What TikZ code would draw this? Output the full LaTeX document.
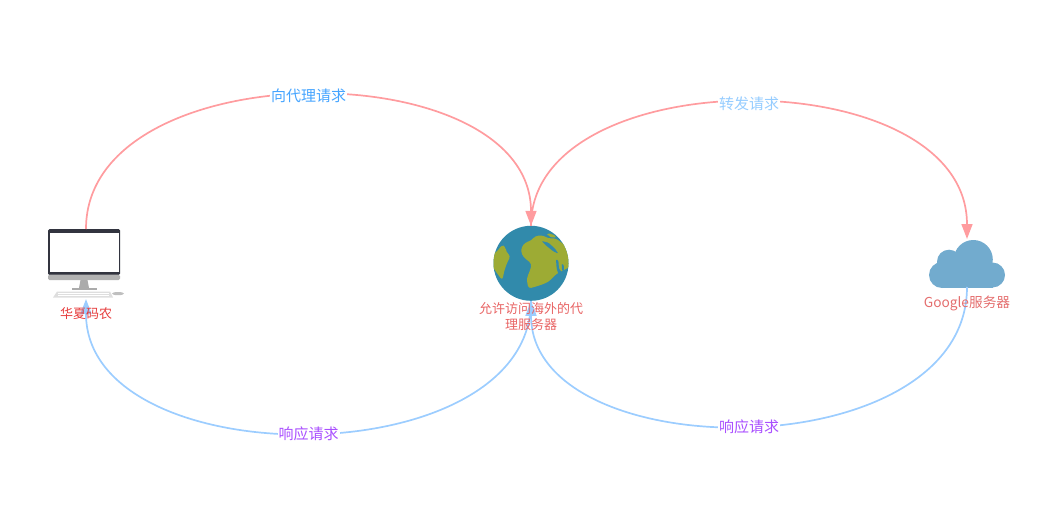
\documentclass[tikz,border=0pt]{standalone}
\usepackage{fontspec}
\setmainfont{Noto Sans CJK SC}
\usetikzlibrary{arrows.meta}
\definecolor{reqline}{HTML}{FF9C9F}
\definecolor{respline}{HTML}{9CCDFF}
\definecolor{oceanblue}{HTML}{318AAB}
\definecolor{landgreen}{HTML}{9DAB34}
\definecolor{cloudblue}{HTML}{72ABCE}
\definecolor{framedark}{HTML}{32343F}
\tikzset{
  x=1pt, y=-1pt,
  iconbox/.style={inner sep=0pt, outer sep=0pt, minimum width=#1},
  reqflow/.style={draw=reqline, line width=1.7pt, -{Triangle[length=15pt,width=11pt]}},
  respflow/.style={draw=respline, line width=1.7pt, -{Triangle[length=15pt,width=11pt]}},
  flowtag/.style={fill=white, inner sep=1pt, font=\fontsize{15}{17}\selectfont},
  captiontag/.style={flowtag, fill=none, yshift=-1pt},
  hosttag/.style={inner sep=0pt, align=center, font=\fontsize{13}{16}\selectfont},
}
\begin{document}
\begin{tikzpicture}
\useasboundingbox (0,0) rectangle (1037,511);

% hosts, as empty boxes that the connectors attach to
\node[iconbox=72pt, minimum height=70pt] (pc) at (86,264) {};
\node[iconbox=75pt, minimum height=75pt, circle] (globe) at (531,263.3) {};
\node[iconbox=76pt, minimum height=48pt] (cloud) at (967,263) {};

% desktop computer
\fill[framedark, rounded corners=1.5pt] (48,229) rectangle (120,275);
\fill[white] (50,233) rectangle (118.5,271.5);
\fill[black!30, rounded corners=1.5pt] (48,274.5) -- (120,274.5) -- (120,280) -- (48,280) -- cycle;
\fill[black!33] (80.5,280) -- (87.5,280) -- (89,288) -- (79,288) -- cycle;
\fill[black!33] (72,288) rectangle (96.5,290);
\fill[black!13] (57,291.5) -- (110,291.5) -- (113,297.5) -- (53,297.5) -- cycle;
\foreach \r in {293.2,294.8}
  \draw[white, line width=.4pt] (58,\r) -- (109,\r);
\fill[black!25] (118,293.6) ellipse [x radius=6, y radius=1.6];

% earth
\fill[oceanblue] (globe.center) circle [radius=37.5];
\begin{scope}
  \clip (globe.center) circle [radius=37.5];
  \begin{scope}[shift={(490,222)}, x=.3333pt, y=-.3333pt]
    \fill[landgreen, rounded corners=3pt]
      (95,75) -- (105,62) -- (125,55) -- (135,42) -- (160,40) -- (175,50) -- (195,48)
      -- (240,80) -- (240,135) -- (200,155) -- (175,180) -- (150,190) -- (115,200)
      -- (110,170) -- (122,140) -- (125,125) -- (100,105) -- (93,90) -- cycle;
    \fill[landgreen, rounded corners=2pt]
      (170,35) -- (185,35) -- (200,45) -- (190,48) -- (175,42) -- cycle;
    \fill[landgreen, rounded corners=3pt]
      (5,100) -- (25,85) -- (35,68) -- (47,75) -- (48,90) -- (62,102) -- (50,125)
      -- (42,150) -- (37,175) -- (22,155) -- (5,130) -- cycle;
    \fill[oceanblue, rounded corners=1pt]
      (155,57) -- (175,62) -- (195,80) -- (205,95) -- (190,88) -- (170,72) -- cycle;
    \fill[oceanblue, rounded corners=1pt]
      (198,112) -- (205,115) -- (207,140) -- (215,150) -- (205,155) -- (200,140) -- cycle;
    \fill[oceanblue, rounded corners=1pt]
      (215,125) -- (222,130) -- (222,150) -- (216,145) -- cycle;
  \end{scope}
\end{scope}

% cloud
\fill[cloudblue] (973.3,259.5) circle [radius=19.5];
\fill[cloudblue] (949,261.7) circle [radius=12];
\fill[cloudblue] (942,275) circle [radius=13];
\fill[cloudblue] (992.5,275) circle [radius=12.5];
\fill[cloudblue] (942,270) rectangle (992.5,288);

% request and response flows
\path[reqflow] (pc.north) .. controls (86,51) and (531,51) .. (globe.north)
  node[pos=.5, flowtag, text=white] (reqa) {向代理请求};
\path[reqflow] (globe.north) .. controls (531,59) and (967,59) .. (cloud.north)
  node[pos=.5, flowtag, text=white] (reqb) {转发请求};
\path[respflow] (cloud.south) .. controls (967,469.5) and (531,469.5) .. (globe.south)
  node[pos=.5, flowtag, text=white] (respb) {响应请求};
\path[respflow] (globe.south) .. controls (531,477) and (86,477) .. (pc.south)
  node[pos=.5, flowtag, text=white] (respa) {响应请求};

% flow captions
\node[captiontag, text={rgb,255:red,70;green,165;blue,255}] at (reqa) {向代理请求};
\node[captiontag, text={rgb,255:red,150;green,205;blue,255}] at (reqb) {转发请求};
\node[captiontag, text={rgb,255:red,170;green,80;blue,255}] at (respa) {响应请求};
\node[captiontag, text={rgb,255:red,170;green,80;blue,255}] at (respb) {响应请求};

% host captions
\node[hosttag, text={rgb,255:red,230;green,60;blue,60}, anchor=north] (pccap) at (86,307) {华夏码农};
\node[hosttag, text={rgb,255:red,232;green,100;blue,100}, anchor=north] (globecap) at (531,302) {允许访问海外的代\\理服务器};
\node[hosttag, font=\fontsize{13.7}{16}\selectfont, text={rgb,255:red,228;green,110;blue,110}, anchor=north] (cloudcap) at (967,295.5) {Google服务器};
\end{tikzpicture}
\end{document}
